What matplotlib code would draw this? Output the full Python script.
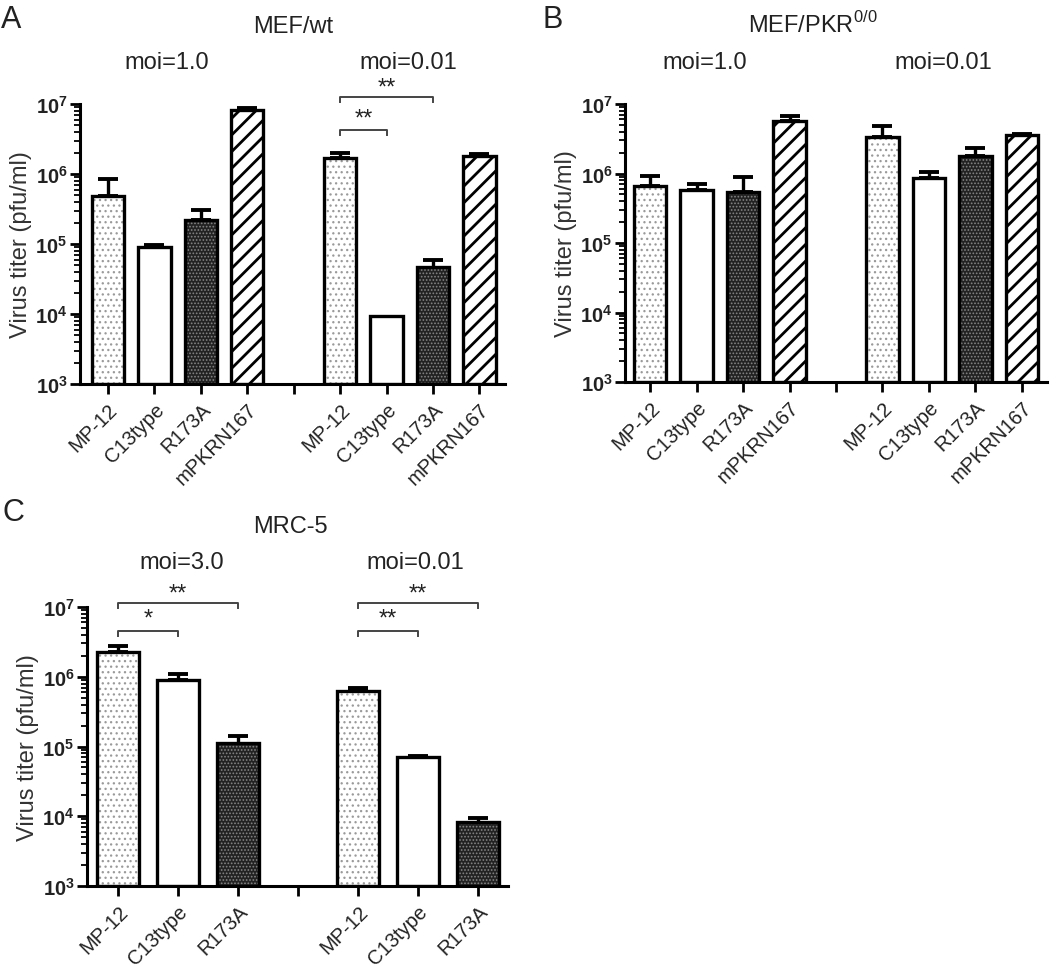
import matplotlib
matplotlib.use('Agg')
import matplotlib.pyplot as plt
import numpy as np
from matplotlib.ticker import FixedLocator, LogLocator, NullFormatter

plt.rcParams['font.family'] = ['Liberation Sans', 'DejaVu Sans']
plt.rcParams['mathtext.fontset'] = 'custom'
plt.rcParams['mathtext.rm'] = 'Liberation Sans'
plt.rcParams['mathtext.bf'] = 'Liberation Sans:bold'
plt.rcParams['hatch.linewidth'] = 1.0

# ---- data ----
strains_4 = ['MP-12', 'C13type', 'R173A', 'mPKRN167']
strains_3 = ['MP-12', 'C13type', 'R173A']

# panel A  MEF/wt
a_moi1 = [4.9e5, 9.1e4, 2.2e5, 8.3e6]
a_moi1_err = [8.5e5, 9.7e4, 3.1e5, 8.9e6]
a_moi001 = [1.7e6, 8.5e3, 4.6e4, 1.8e6]
a_moi001_err = [2.0e6, 9.1e3, 5.9e4, 1.9e6]

# panel B  MEF/PKR0/0
b_moi1 = [6.6e5, 5.7e5, 5.4e5, 5.7e6]
b_moi1_err = [9.2e5, 7.0e5, 8.9e5, 6.7e6]
b_moi001 = [3.3e6, 8.6e5, 1.8e6, 3.6e6]
b_moi001_err = [4.8e6, 1.05e6, 2.3e6, 3.7e6]

# panel C  MRC-5
c_moi3 = [2.3e6, 8.9e5, 1.1e5]
c_moi3_err = [2.8e6, 1.1e6, 1.4e5]
c_moi001 = [6.3e5, 6.9e4, 7.2e3]
c_moi001_err = [6.9e5, 7.4e4, 9.4e3]

# significance comparisons: (bar index i, bar index j, label)
a_sig = [(4, 6, '**'), (4, 5, '**')]
c_sig = [(0, 2, '**'), (0, 1, '*'), (3, 5, '**'), (3, 4, '**')]

# fill styles per strain: (facecolor, hatch, hatch colour, hatch width)
styles = {
    'MP-12': ('white', '...', '#9a9a9a', 0.9),
    'C13type': ('white', '', 'black', 1.0),
    'R173A': ('#222222', '.....', '#858585', 0.8),
    'mPKRN167': ('white', '//', 'black', 2.0),
}

W, H = 1050, 979
fig = plt.figure(figsize=(W / 100, H / 100), dpi=100)


def px_axes(left, top, right, bottom):
    return fig.add_axes([left / W, 1 - bottom / H, (right - left) / W, (bottom - top) / H])


def draw_panel(ax, groups, xlim, sig=None, sig_levels=None):
    labels, vals, errs, pos = [], [], [], []
    p = 0
    for g, (names, v, e) in enumerate(groups):
        if g > 0:
            p += 1  # empty slot between the two moi groups
        for n, vv, ee in zip(names, v, e):
            labels.append(n)
            vals.append(vv)
            errs.append(ee)
            pos.append(p)
            p += 1
    vals = np.array(vals)
    errs = np.array(errs)
    for x, n, v in zip(pos, labels, vals):
        fc, hatch, hc, hlw = styles[n]
        with plt.rc_context({'hatch.linewidth': hlw}):
            ax.bar(x, v, width=0.7, bottom=1e3, color=fc, edgecolor=hc,
                   hatch=hatch, linewidth=0, zorder=2)
        ax.bar(x, v, width=0.7, bottom=1e3, fill=False, edgecolor='black',
               linewidth=2.4, zorder=3)
    ax.errorbar(pos, vals, yerr=[np.zeros_like(vals), errs - vals], fmt='none',
                ecolor='black', elinewidth=2.4, capsize=7, capthick=2.8, zorder=1)

    ax.set_yscale('log')
    ax.set_ylim(1e3, 1e7)
    ax.set_xlim(*xlim)
    all_ticks = list(range(p))
    ax.xaxis.set_major_locator(FixedLocator(all_ticks))
    tick_labels = []
    for t in all_ticks:
        tick_labels.append(labels[pos.index(t)] if t in pos else '')
    ax.set_xticklabels(tick_labels, rotation=45, ha='right',
                       rotation_mode='anchor', fontsize=14.5, color='#222222')
    ax.yaxis.set_major_locator(FixedLocator([1e3, 1e4, 1e5, 1e6, 1e7]))
    ax.set_yticklabels([r'$\mathbf{10^{%d}}$' % k for k in range(3, 8)],
                       fontsize=14.5, color='#222222')
    ax.yaxis.set_minor_locator(LogLocator(base=10, subs=np.arange(2, 10)))
    ax.yaxis.set_minor_formatter(NullFormatter())
    ax.tick_params(axis='both', which='major', direction='out', length=7,
                   width=2.0, pad=2)
    ax.tick_params(axis='y', which='minor', direction='out', length=4, width=1.3)
    ax.tick_params(axis='x', pad=4)
    for s in ['top', 'right']:
        ax.spines[s].set_visible(False)
    for s in ['left', 'bottom']:
        ax.spines[s].set_linewidth(2.2)
    ax.set_ylabel('Virus titer (pfu/ml)', fontsize=17, color='#333333', labelpad=2)
    ax.patch.set_alpha(0)

    if sig:
        for (i, j, txt), (ly, sy) in zip(sig, sig_levels):
            xi, xj = pos[i], pos[j]
            y = 10 ** ly
            yd = 10 ** (ly - 0.07)
            ax.plot([xi, xi, xj, xj], [yd, y, y, yd], color='#444444',
                    lw=1.4, clip_on=False, zorder=4)
            ax.text((xi + xj) / 2, 10 ** sy, txt, ha='center', va='center',
                    fontsize=17, color='#222222', clip_on=False)


ax_a = px_axes(80, 105, 505, 385)
draw_panel(ax_a, [(strains_4, a_moi1, a_moi1_err), (strains_4, a_moi001, a_moi001_err)],
           (-0.6, 8.55), a_sig, [(7.10, 7.24), (6.63, 6.79)])

ax_b = px_axes(625, 105, 1047, 383)
draw_panel(ax_b, [(strains_4, b_moi1, b_moi1_err), (strains_4, b_moi001, b_moi001_err)],
           (-0.54, 8.54))

ax_c = px_axes(87, 608, 508, 887)
draw_panel(ax_c, [(strains_3, c_moi3, c_moi3_err), (strains_3, c_moi001, c_moi001_err)],
           (-0.52, 6.5), c_sig,
           [(7.06, 7.20), (6.66, 6.84), (7.06, 7.20), (6.66, 6.84)])


def ftext(x, y, s, **kw):
    fig.text(x / W, 1 - y / H, s, ha='center', va='center', color='#222222', **kw)


ftext(11, 20, 'A', fontsize=22)
ftext(553, 20, 'B', fontsize=22)
ftext(13, 513, 'C', fontsize=22)
ftext(293, 27, 'MEF/wt', fontsize=17)
ftext(813, 25, r'MEF/PKR$^{\mathregular{0/0}}$', fontsize=17)
ftext(290, 527, 'MRC-5', fontsize=17)
ftext(167, 63, 'moi=1.0', fontsize=17)
ftext(408, 63, 'moi=0.01', fontsize=17)
ftext(705, 63, 'moi=1.0', fontsize=17)
ftext(943, 63, 'moi=0.01', fontsize=17)
ftext(182, 563, 'moi=3.0', fontsize=17)
ftext(415, 563, 'moi=0.01', fontsize=17)

fig.savefig('out.png', dpi=100)
